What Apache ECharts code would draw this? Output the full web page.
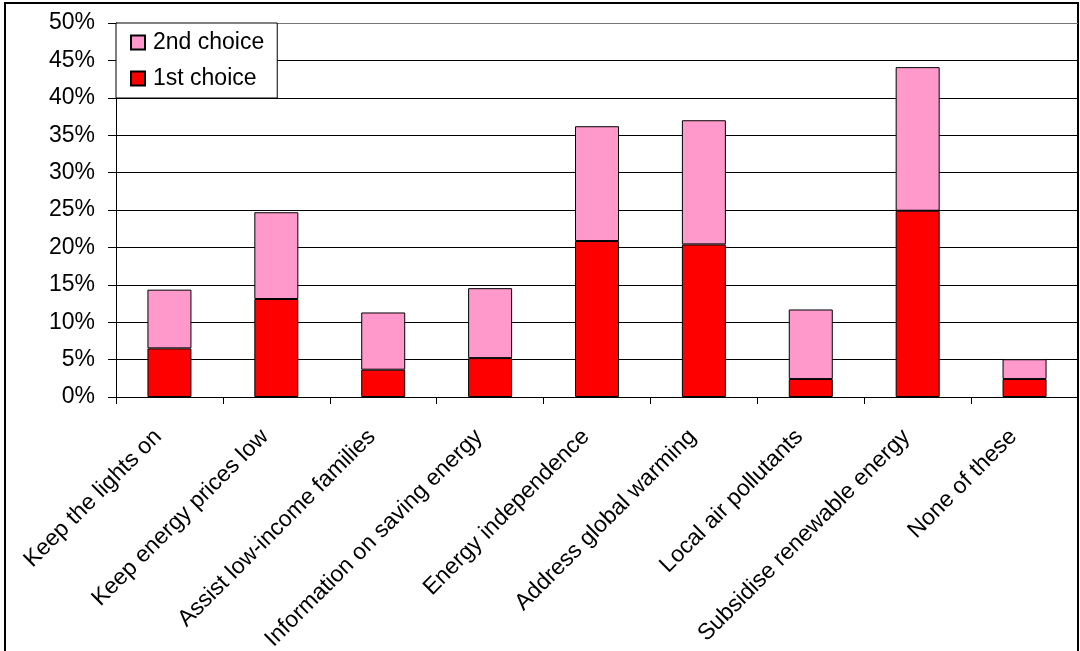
<!DOCTYPE html>
<html>
<head>
<meta charset="utf-8">
<style>
  html, body { margin: 0; padding: 0; background: #fff; }
  #chart { width: 1080px; height: 651px; }
</style>
<script src="https://cdn.jsdelivr.net/npm/echarts@6/dist/echarts.min.js"></script>
</head>
<body>
<div id="chart"></div>
<script>
// Survey: preferred energy policy priorities (share of respondents, %)
const categories = [
  'Keep the lights on',
  'Keep energy prices low',
  'Assist low-income families',
  'Information on saving energy',
  'Energy independence',
  'Address global warming',
  'Local air pollutants',
  'Subsidise renewable energy',
  'None of these'
];
const firstChoice  = [6.5, 13.1, 3.65, 5.2, 20.85, 20.4, 2.4, 24.9, 2.4];
const secondChoice = [7.85, 11.6, 7.65, 9.35, 15.35, 16.6, 9.3, 19.2, 2.65];
const yTicks = { min: 0, max: 50, step: 5 };

const FONT = "'Liberation Sans', Arial, sans-serif";
const FONT_SIZE = 23;
const chart = echarts.init(document.getElementById('chart'), null, { renderer: 'canvas' });

// gridline colours: all black except the top edge line
const gridColors = [];
for (let v = yTicks.min; v <= yTicks.max; v += yTicks.step) {
  gridColors.push(v === yTicks.max ? '#777777' : '#000000');
}

chart.setOption({
  animation: false,
  backgroundColor: '#ffffff',
  textStyle: { fontFamily: FONT },
  graphic: [{
    type: 'rect',
    silent: true,
    z: -1,
    shape: { x: 5, y: 3, width: 1073, height: 700 },
    style: { fill: 'none', stroke: '#000', lineWidth: 2 }
  }],
  grid: {
    left: 116, right: 2, top: 23, bottom: 254,
    containLabel: false,
    outerBoundsMode: 'none'
  },
  legend: {
    orient: 'vertical',
    left: 116, top: 23,
    padding: [8, 13, 8, 14],
    itemGap: 13,
    itemWidth: 14, itemHeight: 14,
    icon: 'rect',
    backgroundColor: '#ffffff',
    borderColor: '#000000',
    borderWidth: 1,
    selectedMode: false,
    textStyle: { fontFamily: FONT, fontSize: FONT_SIZE, color: '#000', padding: [0, 0, 0, 3], lineHeight: 22 },
    data: ['2nd choice', '1st choice']
  },
  xAxis: {
    type: 'category',
    data: categories,
    boundaryGap: true,
    axisLine: { lineStyle: { color: '#000', width: 1 } },
    axisTick: { show: true, length: 7, alignWithLabel: false, lineStyle: { color: '#000' } },
    axisLabel: {
      interval: 0,
      rotate: 45,
      margin: 25,
      padding: [0, 16, 0, 0],
      fontFamily: FONT,
      fontSize: FONT_SIZE,
      color: '#000'
    }
  },
  yAxis: {
    type: 'value',
    min: yTicks.min, max: yTicks.max, interval: yTicks.step,
    axisLine: { show: true, lineStyle: { color: '#000', width: 1 } },
    axisTick: { show: true, length: 8, lineStyle: { color: '#000' } },
    axisLabel: {
      margin: 21,
      formatter: '{value}%',
      fontFamily: FONT,
      fontSize: FONT_SIZE,
      color: '#000'
    },
    splitLine: { show: true, lineStyle: { color: gridColors, width: 1 } }
  },
  series: [
    {
      name: '1st choice',
      type: 'bar',
      stack: 'choice',
      barWidth: 44,
      data: firstChoice,
      itemStyle: { color: '#ff0000', borderColor: '#000', borderWidth: 1 }
    },
    {
      name: '2nd choice',
      type: 'bar',
      stack: 'choice',
      barWidth: 44,
      data: secondChoice,
      itemStyle: { color: '#ff99cc', borderColor: '#000', borderWidth: 1 }
    }
  ]
});
</script>
</body>
</html>
